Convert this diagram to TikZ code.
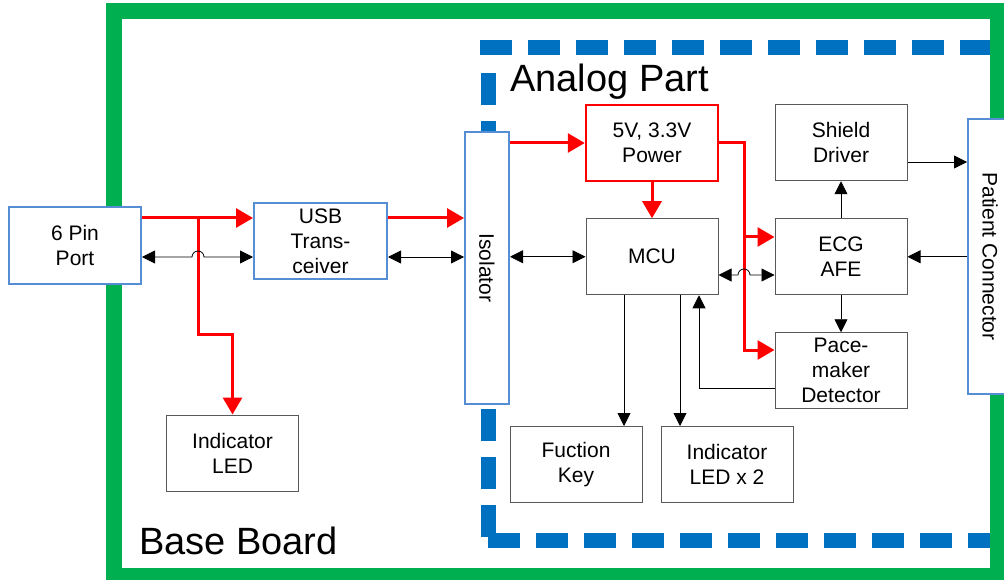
\documentclass[tikz,border=0pt]{standalone}
\usepackage{fontspec}
\setmainfont{Liberation Sans}
\usetikzlibrary{arrows.meta,positioning}
\definecolor{verde}{HTML}{00B050}
\definecolor{azul}{HTML}{0070C0}
\definecolor{azulcaja}{HTML}{558ED5}
\definecolor{rojo}{HTML}{FF0000}
\definecolor{gris}{HTML}{595959}

\begin{document}
\begin{tikzpicture}[x=1pt,y=-1pt,font=\fontsize{21}{25}\selectfont,
          bloque/.style={draw=gris,fill=white,line width=1pt,minimum width=132pt,minimum height=76pt,inner sep=0pt,align=center},
          bloqueazul/.style={bloque,draw=azulcaja,line width=2pt},
          bloquerojo/.style={bloque,draw=rojo,line width=2.5pt},
          potencia/.style={rojo,line width=3pt,-{Triangle[length=17pt,width=19pt]}},
          senal/.style={line width=0.8pt,-{Triangle[length=13pt,width=13pt]}},
          doble/.style={senal,{Triangle[length=13pt,width=13pt]}-{Triangle[length=13pt,width=13pt]}},
          titulo/.style={font=\fontsize{38}{44}\selectfont,inner sep=0pt,anchor=base west}]
        \clip (0,0) rectangle (1004,580);
        % placas
        \draw[azul,line width=15pt,dash pattern=on 32pt off 16pt] (480,48) -- (1004,48);
        \draw[azul,line width=15pt,dash pattern=on 32pt off 16pt] (488,73) -- (488,537);
        \draw[azul,line width=15pt,dash pattern=on 32pt off 16pt] (488,540) -- (1004,540);
        \draw[verde,line width=16pt] (113.5,11) rectangle (998,576);
        \node[titulo] at (510,92) {Analog Part};
        \node[titulo] at (139,554) {Base Board};
        % bloques
        \node[bloqueazul] (port) at (75,245.5) {6 Pin\\Port};
        \node[bloqueazul,minimum width=133pt] (usb) at (320.5,241) {USB\\Trans-\\ceiver};
        \node[bloque] (led) at (232.5,453) {Indicator\\LED};
        \node[bloqueazul,rotate=-90,minimum width=272pt,minimum height=44pt] (iso) at (487,268) {Isolator};
        \node[bloquerojo] (power) at (652,143) {5V, 3.3V\\Power};
        \node[bloque,below=36pt of power] (mcu) {MCU};
        \node[bloque,right=56pt of mcu] (ecg) {ECG\\AFE};
        \node[bloque,above=37pt of ecg] (shield) {Shield\\Driver};
        \node[bloque,below=37pt of ecg] (pace) {Pace-\\maker\\Detector};
        \node[bloqueazul,rotate=-90,minimum width=275pt,minimum height=44pt] (patient) at (990,256.5) {Patient Connector};
        \node[bloque] (key) at (576,464.5) {Fuction\\Key};
        \node[bloque,right=18pt of key] (led2) {Indicator\\LED x 2};
        % alimentacion
        \coordinate (rama) at (198,218);
        \coordinate (bus) at (744,0);
        \draw[potencia] (port.east|-rama) -- (usb.west|-rama);
        \draw[potencia] (rama) -- ++(0,116) -| (led.north);
        \draw[potencia] (usb.east|-rama) -- (iso.south|-rama);
        \draw[potencia] (iso.north|-power.west) -- (power.west);
        \draw[potencia] (power.south) -- (mcu.north);
        \draw[potencia] (power.east) -- (power.east-|bus) -- (bus|-0,350) -- (pace.west|-0,350);
        \draw[potencia] (bus|-0,237) -- (ecg.west|-0,237);
        % senales
        \coordinate (salida1) at ([xshift=-28pt]mcu.south);
        \coordinate (salida2) at ([xshift=28pt]mcu.south);
        \coordinate (entrada) at ([xshift=47pt]mcu.south);
        \draw[doble] (port.east|-0,257) -- (192,257) arc[start angle=180,end angle=0,radius=6pt] -- (usb.west|-0,257);
        \draw[doble] (usb.east|-0,257) -- (iso.south|-0,257);
        \draw[doble] (iso.north|-mcu.west) -- (mcu.west);
        \draw[doble] (mcu.east|-0,275) -- (738,275) arc[start angle=180,end angle=0,radius=6pt] -- (ecg.west|-0,275);
        \draw[senal] (shield.east|-0,162) -- (patient.south|-0,162);
        \draw[senal] (ecg.north) -- (shield.south);
        \draw[senal] (patient.south|-ecg.east) -- (ecg.east);
        \draw[senal] (ecg.south) -- (pace.north);
        \draw[senal] (pace.west|-0,388) -| (entrada);
        \draw[senal] (salida1) -- (salida1|-key.north);
        \draw[senal] (salida2) -- (salida2|-led2.north);
\end{tikzpicture}
\end{document}
